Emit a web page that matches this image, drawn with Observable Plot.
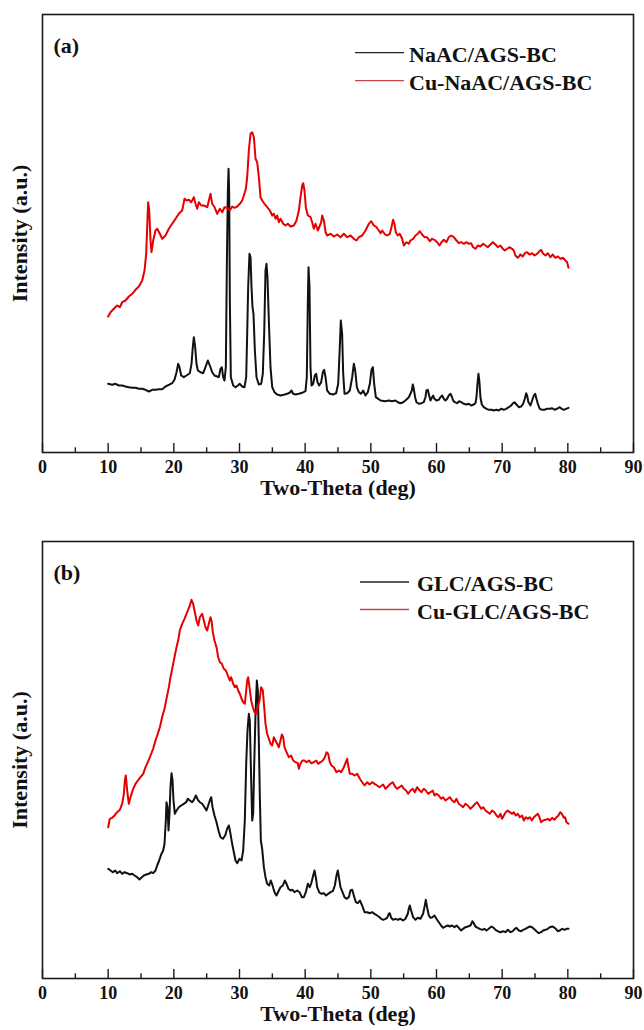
<!DOCTYPE html>
<html><head><meta charset="utf-8">
<script src="https://cdn.jsdelivr.net/npm/d3@7"></script>
<script src="https://cdn.jsdelivr.net/npm/@observablehq/plot@0.6"></script>
<style>
body{margin:0;background:#fff;}
#wrap{position:relative;width:644px;height:1030px;overflow:hidden;background:#fff;}
.panel{position:absolute;left:0;}
</style></head><body><div id="wrap"><div id="pa" class="panel" style="top:0"></div><div id="pb" class="panel" style="top:515px"></div></div>
<script>
const majorTicks = [0,10,20,30,40,50,60,70,80,90];
const minorTicks = [5,15,25,35,45,55,65,75,85];
const xTitle = "Two-Theta (deg)";
const yTitle = "Intensity (a.u.)";
const panelLabels = ["(a)", "(b)"];
const namesA = ["NaAC/AGS-BC", "Cu-NaAC/AGS-BC"];
const namesB = ["GLC/AGS-BC", "Cu-GLC/AGS-BC"];

// panel (a) black: NaAC/AGS-BC  [2θ, intensity]
const naac = [[10.0,68.7],[10.61,67.7],[11.12,68.7],[11.62,67],[12.13,67],[12.64,66],[13.15,65.3],[13.66,64.7],[14.16,64.7],[14.67,63.7],[15.18,63.7],[15.69,62.7],[16.19,61],[16.7,62.7],[17.21,62.7],[17.72,63.3],[18.22,63.3],[18.73,66],[19.24,67.7],[19.75,69.3],[20.1,72.7],[20.41,80.3],[20.66,88.7],[20.86,85.3],[21.12,77],[21.52,75.3],[21.93,77],[22.44,79.3],[22.69,88.7],[22.89,105.3],[23.05,115.3],[23.25,105.3],[23.45,88.7],[23.66,82],[24.06,80.3],[24.47,79.3],[24.82,85.3],[25.18,92],[25.48,87],[25.84,80.3],[26.19,77],[26.6,76],[26.85,75.3],[27.11,83.7],[27.31,85.3],[27.51,75.3],[27.72,72],[27.92,85.3],[28.07,185.3],[28.22,258.7],[28.33,283.7],[28.43,258.7],[28.53,152],[28.68,75.3],[29.04,67],[29.39,65.3],[29.75,67],[30.05,68.7],[30.41,66],[30.76,65.3],[31.02,75.3],[31.17,118.7],[31.32,165.3],[31.52,198.7],[31.68,195.3],[31.83,165.3],[31.98,145.3],[32.13,138.7],[32.34,102],[32.59,75.3],[32.94,68],[33.3,68.7],[33.55,78.7],[33.76,118.7],[33.96,182],[34.11,188.7],[34.26,175.3],[34.47,132],[34.72,85.3],[34.98,65.3],[35.33,60.3],[35.74,58],[36.25,57],[36.75,57.7],[37.26,58.7],[37.67,60],[37.92,62],[38.17,58.7],[38.53,58],[39.04,58.7],[39.54,59.7],[40.05,61.3],[40.25,75.3],[40.41,152],[40.51,185.3],[40.66,165.3],[40.81,85.3],[40.97,67],[41.22,68.7],[41.47,77],[41.68,78.7],[41.88,70.3],[42.13,67],[42.44,70.3],[42.69,80.3],[42.89,82.7],[43.1,75.3],[43.35,62],[43.76,58.7],[44.26,58],[44.72,59.3],[45.03,68.7],[45.23,98.7],[45.43,132],[45.63,118.7],[45.79,78.7],[45.99,58.7],[46.4,59.3],[46.8,62],[47.16,75.3],[47.41,88.7],[47.62,82],[47.87,65.3],[48.17,60.3],[48.53,58.7],[48.83,62],[49.19,57],[49.54,60.3],[49.85,68.7],[50.1,82.7],[50.31,85.3],[50.51,68.7],[50.76,55.3],[51.12,53.7],[51.47,52],[52.23,51.3],[52.73,52],[53.24,51.3],[53.75,52],[54.11,50.3],[54.51,49.3],[54.92,50.3],[55.27,52],[55.78,55.3],[56.03,58.7],[56.24,62],[56.39,68],[56.54,63.7],[56.74,55.3],[56.95,50.3],[57.3,48.7],[57.71,49.3],[58.06,50.3],[58.32,55.3],[58.47,62],[58.67,62.7],[58.88,57],[59.08,52],[59.33,55.3],[59.49,57],[59.69,53.7],[59.99,52],[60.35,52.7],[60.6,55.3],[60.86,57],[61.11,53.7],[61.36,52],[61.62,53.7],[61.87,57],[62.13,58.7],[62.33,56],[62.53,52],[62.79,50.3],[63.14,49.3],[63.45,51.3],[63.75,50.3],[64.16,48.7],[64.56,48],[64.92,48.7],[65.27,47],[65.68,48],[65.93,49.3],[66.09,55.3],[66.24,68.7],[66.39,78.7],[66.54,70.3],[66.69,55.3],[66.9,48],[67.2,45.3],[67.61,43.7],[67.96,42.7],[68.37,42.7],[68.72,42],[69.13,42.7],[69.49,42],[69.84,43.7],[70.25,42.7],[70.6,43.7],[71.01,45.3],[71.36,47],[71.67,49.3],[71.87,50.3],[72.18,48],[72.53,45.3],[72.89,46],[73.19,48.7],[73.45,53.7],[73.65,59.3],[73.8,57],[74.0,50.3],[74.31,47],[74.56,52],[74.82,57],[75.02,58.7],[75.22,53.7],[75.43,48.7],[75.73,43.7],[76.09,42.7],[76.44,42.7],[76.85,43.7],[77.25,43.7],[77.61,44.3],[77.96,42.7],[78.37,43.7],[78.72,45.3],[79.08,43.7],[79.38,42.7],[79.74,43.7],[80.1,44.7]];

// panel (a) red: Cu-NaAC/AGS-BC
const cuNaac = [[10.0,136],[10.36,140.3],[10.87,143.7],[11.37,147],[11.78,145.3],[12.14,150.3],[12.64,152],[13.15,156],[13.66,158.7],[14.17,162.7],[14.67,166],[15.18,172],[15.54,182],[15.79,198.7],[15.94,225.3],[16.09,250.3],[16.25,242],[16.45,212],[16.6,200.3],[16.86,212],[17.21,222],[17.47,223.7],[17.87,218.7],[18.23,213.7],[18.73,217],[19.24,223.7],[19.75,228.7],[20.26,233.7],[20.76,238.7],[21.27,242],[21.63,253.7],[21.93,252],[22.29,252.7],[22.64,250.3],[23.05,255.3],[23.3,248.7],[23.56,243.7],[23.81,250.3],[24.17,247],[24.57,247],[25.08,245.3],[25.59,258.7],[25.84,248.7],[26.2,245.3],[26.6,238.7],[27.01,243.7],[27.36,240.3],[27.72,245.3],[28.13,244.7],[28.53,242],[28.89,246],[29.24,244.7],[29.65,246],[30.05,248.7],[30.41,252],[30.66,257],[30.97,263.7],[31.17,275.3],[31.42,302],[31.68,318.7],[31.93,320.3],[32.19,315.3],[32.44,293.7],[32.69,290.3],[32.95,275.3],[33.2,255.3],[33.45,252],[33.81,248.7],[34.22,245.3],[34.62,242],[34.98,237],[35.23,238.7],[35.49,233.7],[35.74,237],[35.99,230.3],[36.25,233.7],[36.65,228.7],[37.01,227],[37.36,228.7],[37.77,226],[38.28,227],[38.68,232],[39.04,242],[39.29,255.3],[39.55,267],[39.7,269.3],[39.9,262],[40.1,245.3],[40.41,237],[40.82,235.3],[41.07,230.3],[41.32,223.7],[41.58,228.7],[41.93,222],[42.24,227],[42.44,230.3],[42.59,237],[42.85,232],[43.1,220.3],[43.35,217],[43.86,218.7],[44.37,216],[44.88,218],[45.38,215.3],[45.89,218.7],[46.4,215.3],[46.91,217],[47.41,213.7],[47.82,212],[48.18,215.3],[48.68,217],[49.19,222],[49.7,228.7],[50.05,231.3],[50.46,227],[50.87,225.3],[51.22,222],[51.48,219.3],[51.72,222],[52.07,218.7],[52.48,217],[52.89,218.7],[53.14,225.3],[53.39,232.7],[53.6,228.7],[53.8,220.3],[54.11,217],[54.41,218.7],[54.77,213.7],[55.02,207],[55.43,210.3],[55.78,208.7],[56.03,212],[56.44,213.7],[56.8,217],[57.15,218.7],[57.46,221.3],[57.81,218],[58.17,215.3],[58.57,215.3],[58.98,211.3],[59.33,213.7],[59.69,212.7],[60.1,210.3],[60.45,207],[60.76,210.3],[61.11,212.7],[61.52,210.3],[61.87,215.3],[62.23,217],[62.63,215.3],[63.04,212],[63.39,209.3],[63.75,210.3],[64.16,208.7],[64.56,210.3],[64.92,208.7],[65.27,209.3],[65.58,205.3],[65.93,203.7],[66.29,207],[66.69,206],[67.1,208.7],[67.46,207],[67.81,205.3],[68.22,208],[68.57,210.3],[68.98,208],[69.33,205.3],[69.74,207],[70.1,203.7],[70.4,202],[70.76,203.7],[71.11,205.3],[71.52,203.7],[71.77,202],[72.02,197],[72.38,194.7],[72.79,198],[73.14,196],[73.45,199.3],[73.8,200.3],[74.16,198],[74.56,199.3],[74.92,197],[75.32,198.7],[75.68,201.3],[75.93,202.7],[76.24,198.7],[76.59,197],[76.95,199.3],[77.35,195.3],[77.71,198],[78.06,194.7],[78.47,196],[78.88,193.7],[79.28,194.7],[79.64,192],[79.89,190.3],[80.1,184.7]];

// panel (b) black: GLC/AGS-BC
const glc = [[10.0,109.7],[10.36,108],[10.71,106.3],[11.07,108],[11.37,105.3],[11.78,107.3],[12.13,104.7],[12.49,106.3],[12.89,105.3],[13.3,104],[13.66,104.7],[14.01,103],[14.42,101.3],[14.77,99],[15.13,101.3],[15.43,103],[15.79,104],[16.19,104.7],[16.55,106.3],[16.85,105.3],[17.21,108],[17.46,113],[17.77,118],[18.07,124],[18.38,128],[18.58,134.7],[18.78,158],[18.88,176.3],[19.04,171.3],[19.19,148],[19.34,164.7],[19.49,191.3],[19.65,205.3],[19.8,198],[19.95,178],[20.15,164.7],[20.41,168],[20.76,171.3],[21.12,173],[21.52,174.7],[21.88,176.3],[22.13,179.7],[22.44,178],[22.79,176.3],[23.05,178.7],[23.35,183],[23.66,178.7],[23.96,176.3],[24.31,174.7],[24.67,171.3],[24.97,168],[25.23,173],[25.48,178],[25.69,181.3],[25.89,171.3],[26.19,163],[26.5,156.3],[26.8,148],[27.11,141.3],[27.46,139.7],[27.82,143],[28.12,149.7],[28.38,153],[28.63,144.7],[28.88,134.7],[29.14,126.3],[29.39,118],[29.65,115.3],[30.0,119.7],[30.31,118],[30.56,128],[30.81,158],[31.02,214.7],[31.22,248],[31.42,264.7],[31.57,258],[31.73,211.3],[31.93,158],[32.08,164.7],[32.23,211.3],[32.44,264.7],[32.64,298],[32.79,288],[32.94,238],[33.1,181.3],[33.25,138],[33.45,129.7],[33.71,111.3],[33.96,101.3],[34.21,94.7],[34.52,93],[34.77,98],[35.03,93],[35.33,86.3],[35.63,83],[35.99,88],[36.24,91.3],[36.6,93],[36.9,98],[37.16,94.7],[37.46,89.7],[37.77,88],[38.07,88.7],[38.38,86.3],[38.78,88],[39.14,86.3],[39.49,81.3],[39.8,81.3],[40.1,86.3],[40.41,94.7],[40.71,91.3],[40.97,96.3],[41.22,103],[41.42,108],[41.62,101.3],[41.83,91.3],[42.13,86.3],[42.44,84.7],[42.84,85.3],[43.2,83],[43.5,84.7],[43.86,86.3],[44.21,87.3],[44.52,93],[44.77,103],[44.97,108],[45.18,99.7],[45.38,91.3],[45.69,86.3],[45.99,81.3],[46.29,79.7],[46.65,81.3],[46.9,88],[47.16,88.7],[47.41,83],[47.72,76.3],[48.02,75.3],[48.33,78],[48.68,73],[49.04,66.3],[49.44,66.3],[49.85,65.3],[50.2,66.3],[50.56,64.7],[50.96,63],[51.32,61.3],[51.57,59.7],[51.87,58.7],[52.23,59.7],[52.48,60.7],[52.73,64.7],[52.89,65.3],[53.09,60.7],[53.39,58.7],[53.75,59.7],[54.11,58.7],[54.51,59.7],[54.92,58],[55.27,59.7],[55.63,64.7],[55.78,69.7],[55.93,73],[56.14,68],[56.44,61.3],[56.8,58.7],[57.15,60.7],[57.56,59.7],[57.96,64.7],[58.22,73],[58.37,78.7],[58.57,71.3],[58.83,63],[59.08,60.7],[59.38,61.3],[59.69,63],[59.99,59.7],[60.35,56.3],[60.7,53],[61.01,50.7],[61.36,52],[61.72,53],[62.02,52],[62.38,53],[62.73,51.3],[63.04,53],[63.39,50.7],[63.75,48],[64.05,49.7],[64.41,51.3],[64.77,52],[65.17,53],[65.48,57.3],[65.68,55.3],[65.93,52],[66.29,50.7],[66.59,49.7],[66.95,48.7],[67.3,49.7],[67.61,48],[67.96,49.7],[68.37,52],[68.72,50.7],[68.98,48.7],[69.33,47.3],[69.74,46.3],[70.15,47.3],[70.5,46.3],[70.86,48.7],[71.26,46.3],[71.62,47.3],[71.92,49.7],[72.18,50.7],[72.53,48],[72.89,47.3],[73.19,48.7],[73.55,49.7],[73.8,50.7],[74.21,52],[74.56,51.3],[74.82,49.7],[75.22,47.3],[75.58,45.3],[75.93,46.3],[76.24,48],[76.59,48.7],[76.95,49.7],[77.25,51.3],[77.61,52],[77.86,51.3],[78.17,49.7],[78.47,47.3],[78.78,48],[79.13,49.7],[79.49,48.7],[79.79,49.7],[80.1,49.7]];

// panel (b) red: Cu-GLC/AGS-BC
const cuGlc = [[10.0,151.3],[10.25,159.7],[10.61,160.7],[10.96,163],[11.37,166.3],[11.78,168.7],[12.13,174.7],[12.39,184.7],[12.54,198],[12.69,203],[12.89,188],[13.15,174.7],[13.4,181.3],[13.81,189.7],[14.16,194.7],[14.52,198],[14.92,201.3],[15.33,204.7],[15.69,211.3],[16.04,216.3],[16.45,223],[16.85,229.7],[17.21,238],[17.56,244.7],[17.87,251.3],[18.22,261.3],[18.58,269.7],[18.88,279.7],[19.24,291.3],[19.49,301.3],[19.8,311.3],[20.1,321.3],[20.41,331.3],[20.71,339.7],[20.91,348],[21.27,354.7],[21.62,359.7],[21.93,364.7],[22.13,368],[22.44,373],[22.69,378.7],[22.94,374.7],[23.2,366.3],[23.45,358],[23.71,353],[23.96,361.3],[24.31,364.7],[24.57,358],[24.82,351.3],[25.08,348],[25.33,354.7],[25.58,361.3],[25.74,358],[25.94,346.3],[26.19,338],[26.5,331.3],[26.75,321.3],[27.01,316.3],[27.31,314.7],[27.62,309.7],[27.92,308],[28.22,303],[28.53,298],[28.73,301.3],[29.04,294.7],[29.29,291.3],[29.54,293],[29.8,288],[30.05,284.7],[30.31,279.7],[30.56,276.3],[30.81,274.7],[31.02,288],[31.17,298],[31.32,301.3],[31.52,291.3],[31.78,278],[32.03,271.3],[32.29,266.3],[32.54,264.7],[32.79,271.3],[33.05,278],[33.3,291.3],[33.55,288],[33.76,271.3],[33.96,254.7],[34.21,244.7],[34.47,239.7],[34.72,234.7],[34.97,233],[35.23,241.3],[35.48,238],[35.74,234.7],[35.99,231.3],[36.24,238],[36.45,244],[36.65,241.3],[36.85,231.3],[37.16,226.3],[37.51,221.3],[37.87,223],[38.17,218],[38.53,216.3],[38.88,215.3],[39.04,209.7],[39.29,215],[39.59,218],[39.9,218],[40.2,216.3],[40.56,218],[40.91,215.3],[41.32,216.3],[41.68,218],[41.98,214.7],[42.34,216.3],[42.69,218],[43.0,221.3],[43.25,226.3],[43.5,224.7],[43.76,216.3],[44.01,213],[44.37,211.3],[44.77,206.3],[45.13,208],[45.48,206.3],[45.89,211.3],[46.19,216.3],[46.4,219.7],[46.55,213],[46.8,204.7],[47.16,204.7],[47.51,203],[47.92,204.7],[48.33,199.7],[48.68,196.3],[49.04,193],[49.44,196.3],[49.8,194],[50.2,196.3],[50.56,194.7],[50.96,193],[51.32,191.3],[51.87,194],[52.23,189.7],[52.58,192],[52.99,194.7],[53.34,196.3],[53.7,192],[54.0,189.7],[54.36,191.3],[54.71,193],[55.02,189.7],[55.37,188],[55.68,184.7],[56.03,188],[56.39,189.7],[56.69,186.3],[57.05,191.3],[57.35,188.7],[57.71,186.3],[58.06,189.7],[58.37,188],[58.72,184.7],[59.08,186.3],[59.43,188],[59.69,183],[59.99,184.7],[60.35,183],[60.7,179.7],[61.01,181.3],[61.36,178],[61.72,179.7],[62.02,181.3],[62.38,178],[62.73,176.3],[63.04,179.7],[63.39,174.7],[63.75,173],[64.05,171.3],[64.41,174.7],[64.77,173],[65.17,169.7],[65.53,172],[65.88,174.7],[66.19,176.3],[66.49,173],[66.8,169.7],[67.1,171.3],[67.46,168],[67.81,166.3],[68.12,164.7],[68.47,168],[68.83,166.3],[69.13,163],[69.44,161.3],[69.74,164.7],[69.99,159.7],[70.25,163],[70.55,166.3],[70.86,168],[71.16,166.3],[71.52,164.7],[71.77,166.3],[72.08,163],[72.38,164.7],[72.68,161.3],[73.04,163],[73.29,158],[73.6,161.3],[73.9,159.7],[74.21,161.3],[74.51,158],[74.82,161.3],[75.12,163],[75.43,164.7],[75.68,161.3],[75.93,156.3],[76.24,158],[76.59,158.7],[76.95,159.7],[77.25,158],[77.61,160.7],[77.96,158.7],[78.27,161.3],[78.57,163],[78.83,166.3],[79.08,164.7],[79.39,160.7],[79.59,161.3],[79.79,156.3],[80.1,154.7]];

const serif = "'Liberation Serif','Times New Roman',Times,serif";
const colors = ["#111111", "#e60000"];

function panel(el, {mTop, mBottom, yMax, black, red, names, label}) {
  const rows = [
    ...black.map(([t, v]) => ({t, v, s: names[0]})),
    ...red.map(([t, v]) => ({t, v, s: names[1]}))
  ];
  const txt = {fontFamily: serif, fontWeight: "bold", fill: "#111"};
  const chart = Plot.plot({
    width: 644, height: 515,
    marginLeft: 42, marginRight: 11, marginTop: mTop, marginBottom: mBottom,
    style: {background: "transparent", overflow: "visible"},
    x: {domain: [0, 90], axis: null},
    y: {domain: [0, yMax], axis: null},
    color: {domain: names, range: colors},
    marks: [
      Plot.line(rows, {x: "t", y: "v", z: "s", stroke: "s", strokeWidth: 2, strokeLinejoin: "round"}),
      Plot.frame({stroke: "#1a1a1a", strokeWidth: 1.6}),
      Plot.ruleX(majorTicks, {x: d => d, y1: 0, y2: 9, stroke: "#1a1a1a", strokeWidth: 1.4}),
      Plot.ruleX(minorTicks, {x: d => d, y1: 0, y2: 4.7, stroke: "#1a1a1a", strokeWidth: 1.4}),
      Plot.text(majorTicks, {x: d => d, frameAnchor: "bottom", dy: 20, text: d => String(d), fontSize: 18, ...txt}),
      Plot.text([xTitle], {frameAnchor: "bottom", dy: 42, text: d => d, fontSize: 22, ...txt}),
      Plot.text([yTitle], {frameAnchor: "left", rotate: -90, dx: -23, textAnchor: "middle", lineAnchor: "middle", text: d => d, fontSize: 22, ...txt}),
      Plot.text([label], {frameAnchor: "top-left", dx: 11, dy: 31, textAnchor: "start", lineAnchor: "middle", text: d => d, fontSize: 22, ...txt})
    ]
  });
  el.appendChild(chart);
}

panel(document.getElementById("pa"), {mTop: 14, mBottom: 63, yMax: 438, black: naac, red: cuNaac, names: namesA, label: panelLabels[0]});
panel(document.getElementById("pb"), {mTop: 26, mBottom: 52, yMax: 437, black: glc, red: cuGlc, names: namesB, label: panelLabels[1]});

// legends (overlay)
const legendSpecs = [
  {names: namesA, x1: 355, x2: 404, tx: 409, ys: [52.7, 80.7]},
  {names: namesB, x1: 360, x2: 409, tx: 417, ys: [582, 609.5]}
];
const legendColors = ["#222222", "#c8464a"];
const ov = d3.create("svg").attr("width", 644).attr("height", 1030)
  .style("position", "absolute").style("left", 0).style("top", 0).style("pointer-events", "none");
legendSpecs.forEach(spec => {
  spec.names.forEach((n, i) => {
    ov.append("line").attr("x1", spec.x1).attr("x2", spec.x2).attr("y1", spec.ys[i]).attr("y2", spec.ys[i])
      .attr("stroke", legendColors[i]).attr("stroke-width", 1.3);
    ov.append("text").attr("x", spec.tx).attr("y", spec.ys[i] + 9)
      .attr("font-family", serif).attr("font-weight", "bold").attr("font-size", 22).attr("fill", "#111").text(n);
  });
});
document.getElementById("wrap").appendChild(ov.node());
</script></body></html>
